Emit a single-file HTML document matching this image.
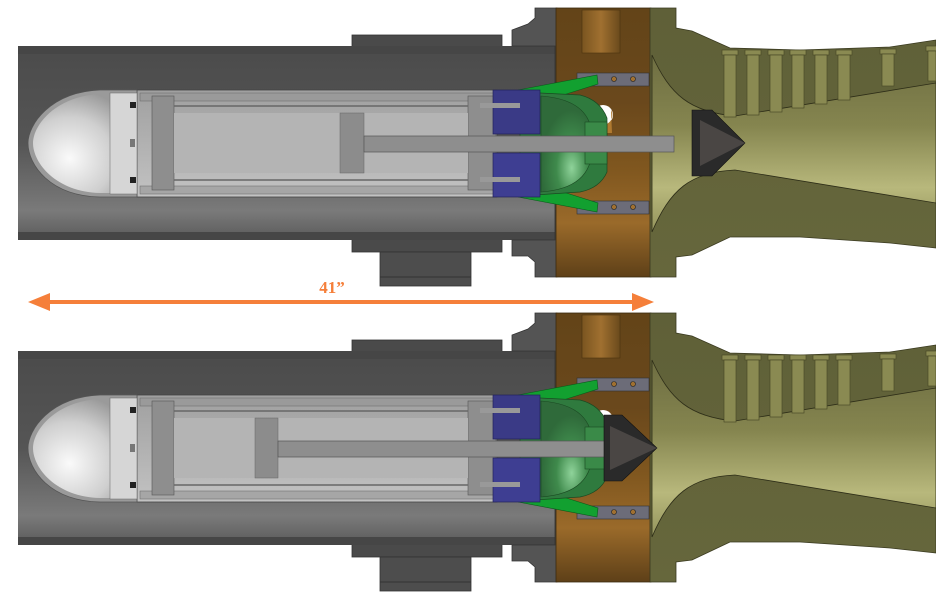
<!DOCTYPE html>
<html><head><meta charset="utf-8"><style>
html,body{margin:0;padding:0;background:#fff;}
svg{display:block;}
</style></head><body>
<svg width="936" height="602" viewBox="0 0 936 602" xmlns="http://www.w3.org/2000/svg">
<defs>
<linearGradient id="tube" x1="0" y1="0" x2="0" y2="1">
<stop offset="0" stop-color="#4b4b4b"/><stop offset="0.5" stop-color="#555"/><stop offset="0.85" stop-color="#7a7a7a"/><stop offset="1" stop-color="#5a5a5a"/></linearGradient>
<radialGradient id="nose" cx="0.35" cy="0.65" r="0.7">
<stop offset="0" stop-color="#fafafa"/><stop offset="0.6" stop-color="#cfcfcf"/><stop offset="1" stop-color="#9a9a9a"/></radialGradient>
<linearGradient id="cyl" x1="0" y1="0" x2="0" y2="1">
<stop offset="0" stop-color="#a0a0a0"/><stop offset="1" stop-color="#c2c2c2"/></linearGradient>
<linearGradient id="brown" x1="0" y1="0" x2="0" y2="1">
<stop offset="0" stop-color="#634418"/><stop offset="0.35" stop-color="#6a481c"/><stop offset="0.6" stop-color="#80571f"/><stop offset="0.8" stop-color="#9a6a2a"/><stop offset="1" stop-color="#5e4018"/></linearGradient>
<linearGradient id="port" x1="0" y1="0" x2="1" y2="0">
<stop offset="0" stop-color="#7a5520"/><stop offset="0.5" stop-color="#a07030"/><stop offset="1" stop-color="#6a4a1c"/></linearGradient>
<linearGradient id="olive" x1="0" y1="0" x2="0" y2="1">
<stop offset="0" stop-color="#5f6038"/><stop offset="1" stop-color="#66673c"/></linearGradient>
<linearGradient id="bore" x1="0" y1="0" x2="0" y2="1">
<stop offset="0" stop-color="#6e6e42"/><stop offset="0.4" stop-color="#85854f"/><stop offset="0.75" stop-color="#b8b87c"/><stop offset="1" stop-color="#94945c"/></linearGradient>
<radialGradient id="dome" cx="0.6" cy="0.75" r="0.6">
<stop offset="0" stop-color="#8fd39a"/><stop offset="0.5" stop-color="#3f8a4c"/><stop offset="1" stop-color="#2f6a3a"/></radialGradient>
<g id="asm">
 <rect x="352" y="35" width="150" height="12" fill="#4a4a4a" stroke="#333" stroke-width="0.8"/>
 <rect x="352" y="239" width="150" height="13" fill="#4a4a4a" stroke="#333" stroke-width="0.8"/>
 <rect x="380" y="252" width="91" height="34" fill="#4d4d4d" stroke="#333" stroke-width="0.8"/>
 <line x1="380" y1="277" x2="471" y2="277" stroke="#333"/>
 <rect x="18" y="46" width="540" height="194" fill="url(#tube)"/>
 <rect x="18" y="46" width="540" height="8" fill="#464646"/>
 <rect x="18" y="232" width="540" height="8" fill="#464646"/>
 <path d="M535 8 H557 V277 H535 V262 L528 256 H512 V240 H555 V46 H512 V30 L528 24 L535 18 Z" fill="#545454" stroke="#333" stroke-width="0.8"/>
 <rect x="556" y="8" width="95" height="269" fill="url(#brown)" stroke="#3a2a10" stroke-width="0.8"/>
 <rect x="582" y="10" width="38" height="43" fill="url(#port)" stroke="#4a3210" stroke-width="0.6"/>
 <path d="M650 8 H676 V28 L692 31 L730 48 L800 50 L890 47 L936 40 V248 L890 243 L800 237 L730 237 L692 255 L676 257 V277 H650 Z" fill="url(#olive)" stroke="#3a3a20" stroke-width="0.8"/>
 <path d="M652 55 C670 95 690 112 735 116 L936 83 V203 L735 170 C690 172 670 190 652 232 Z" fill="url(#bore)" stroke="#2e2e18" stroke-width="0.8"/>
 <g fill="#8a8a52" stroke="#4a4a28" stroke-width="0.7">
  <rect x="722" y="50" width="16" height="5"/><rect x="724" y="55" width="12" height="62"/>
  <rect x="745" y="50" width="16" height="5"/><rect x="747" y="55" width="12" height="60"/>
  <rect x="768" y="50" width="16" height="5"/><rect x="770" y="55" width="12" height="57"/>
  <rect x="790" y="50" width="16" height="5"/><rect x="792" y="55" width="12" height="53"/>
  <rect x="813" y="50" width="16" height="5"/><rect x="815" y="55" width="12" height="49"/>
  <rect x="836" y="50" width="16" height="5"/><rect x="838" y="55" width="12" height="45"/>
  <rect x="880" y="49" width="16" height="5"/><rect x="882" y="54" width="12" height="32"/>
  <rect x="926" y="46" width="12" height="5"/><rect x="928" y="51" width="8" height="30"/>
 </g>
 <rect x="577" y="73" width="72" height="13" fill="#6c6c78" stroke="#333" stroke-width="0.6"/>
 <rect x="577" y="201" width="72" height="13" fill="#6c6c78" stroke="#333" stroke-width="0.6"/>
 <g fill="#a07030" stroke="#222" stroke-width="0.6">
  <circle cx="614" cy="79" r="2.5"/><circle cx="633" cy="79" r="2.5"/>
  <circle cx="614" cy="207" r="2.5"/><circle cx="633" cy="207" r="2.5"/></g>
 <circle cx="603" cy="115" r="10" fill="#fff"/>
 <path d="M611 110 A10 10 0 0 1 603 125 L603 133 L612 133 Z" fill="#b07a30"/>
 <path d="M518 90 L597 75 L598 84 L560 96 Z" fill="#12a030" stroke="#0a5a1a" stroke-width="0.6"/>
 <path d="M518 197 L597 212 L598 203 L560 191 Z" fill="#12a030" stroke="#0a5a1a" stroke-width="0.6"/>
 <path d="M520 92 L580 95 Q600 100 607 118 V172 Q600 188 580 192 L520 196 Z" fill="#2f7a3e" stroke="#1a4a22" stroke-width="0.7"/>
 <path d="M541 96 Q595 100 592 143 Q595 188 541 192 Z" fill="url(#dome)" stroke="#1a4a22" stroke-width="0.6"/>
 <rect x="585" y="122" width="22" height="42" fill="#3a8a48" stroke="#1a4a22" stroke-width="0.6"/>
 <rect x="137" y="90" width="360" height="107" fill="url(#cyl)" stroke="#444" stroke-width="0.8"/>
 <rect x="140" y="93" width="355" height="8" fill="#9a9a9a" stroke="#666" stroke-width="0.5"/>
 <rect x="140" y="186" width="355" height="8" fill="#a6a6a6" stroke="#666" stroke-width="0.5"/>
 <rect x="152" y="96" width="22" height="94" fill="#8e8e8e" stroke="#555" stroke-width="0.6"/>
 <rect x="468" y="96" width="28" height="94" fill="#8e8e8e" stroke="#555" stroke-width="0.6"/>
 <rect x="174" y="113" width="294" height="60" fill="#b4b4b4"/>
 <line x1="174" y1="106" x2="468" y2="106" stroke="#666" stroke-width="1.5"/>
 <line x1="174" y1="180" x2="468" y2="180" stroke="#666" stroke-width="1.5"/>
 <path d="M137 90 H100 C50 92 28 125 28 143 C28 165 50 196 100 197 H137 Z" fill="#9a9a9a" stroke="#555" stroke-width="0.8"/>
 <path d="M137 94 H100 C56 96 33 125 33 143 C33 163 56 192 100 193 H137 Z" fill="url(#nose)"/>
 <rect x="110" y="93" width="27" height="101" fill="#d6d6d6" stroke="#666" stroke-width="0.5"/>
 <rect x="130" y="102" width="6" height="6" fill="#222"/><rect x="130" y="177" width="6" height="6" fill="#222"/>
 <rect x="130" y="139" width="5" height="8" fill="#777"/>
 <rect x="493" y="90" width="47" height="44" fill="#3a3a86" stroke="#22225a" stroke-width="0.7"/>
 <rect x="493" y="153" width="47" height="44" fill="#3e3e92" stroke="#22225a" stroke-width="0.7"/>
 <rect x="480" y="103" width="40" height="5" fill="#999"/><rect x="480" y="177" width="40" height="5" fill="#999"/>
</g>
</defs>
<use href="#asm"/>
<use href="#asm" transform="translate(0,305)"/>
<!-- top piston/rod/cone -->
<rect x="340" y="113" width="24" height="60" fill="#8c8c8c" stroke="#666" stroke-width="0.5"/>
<rect x="364" y="136" width="310" height="16" fill="#8e8e8e" stroke="#555" stroke-width="0.7"/>
<path d="M692 110 H712 L745 143 L712 176 H692 Z" fill="#2a2a2a" stroke="#111" stroke-width="0.6"/>
<path d="M700 120 L745 143 L700 166 Z" fill="#4a4644"/>
<!-- bottom piston/rod/cone -->
<rect x="255" y="418" width="23" height="60" fill="#8c8c8c" stroke="#666" stroke-width="0.5"/>
<rect x="278" y="441" width="330" height="16" fill="#8e8e8e" stroke="#555" stroke-width="0.7"/>
<path d="M604 415 H622 L657 448 L622 481 H604 Z" fill="#2a2a2a" stroke="#111" stroke-width="0.6"/>
<path d="M610 426 L657 448 L610 470 Z" fill="#4a4644"/>
<!-- arrow -->
<line x1="40" y1="302" x2="640" y2="302" stroke="#f57f3a" stroke-width="4"/>
<polygon points="28,302 50,293 50,311" fill="#f57f3a"/>
<polygon points="654,302 632,293 632,311" fill="#f57f3a"/>
<text x="332" y="293" font-family="Liberation Serif, serif" font-size="17" font-weight="bold" fill="#f57f3a" text-anchor="middle">41”</text>
</svg>
</body></html>
